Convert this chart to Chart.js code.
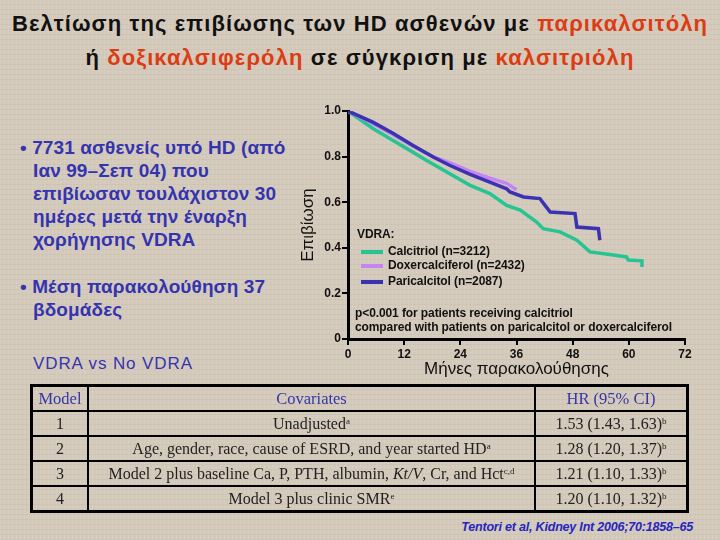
<!DOCTYPE html>
<html lang="el">
<head>
<meta charset="UTF-8">
<title>Επιβίωση HD - VDRA</title>
<script src="https://cdn.jsdelivr.net/npm/chart.js@4.4.1/dist/chart.umd.min.js"></script>
<style>
    html, body { margin: 0; padding: 0; }
    body {
        width: 720px; height: 540px; position: relative; overflow: hidden;
        background-color: #d4cabb;
        background-image:
            repeating-linear-gradient(90deg, rgba(255,255,255,0.07) 0 1px, rgba(0,0,0,0) 1px 4px),
            repeating-linear-gradient(0deg, rgba(90,70,50,0.05) 0 1px, rgba(0,0,0,0) 1px 5px);
        font-family: "Liberation Sans", Arial, sans-serif;
    }
    .title {
        position: absolute; left: 0; width: 720px; text-align: center;
        font-size: 22px; font-weight: bold; letter-spacing: 1.1px; color: #111; white-space: nowrap;
    }
    .title .hl { color: #dc3c14; }
    .bullets {
        position: absolute; left: 20px; top: 136px; color: #3434b0;
        font-weight: bold; font-size: 19px; line-height: 23px; white-space: nowrap; letter-spacing: 0.1px;
    }
    .bullets p { margin: 0; padding-left: 13px; text-indent: -13px; }
    .vdra { position: absolute; left: 33px; top: 354px; color: #3434b0; font-size: 17px; letter-spacing: 0.9px; }
    #wrap { position: absolute; left: 270px; top: 95px; width: 430px; height: 290px; }
    .lg { position: absolute; font-weight: bold; font-size: 12px; color: #111; white-space: nowrap; letter-spacing: -0.1px; }
    .sw { position: absolute; width: 22px; height: 4px; }
    table {
        position: absolute; left: 30px; top: 384px; width: 659px; height: 124px;
        border-collapse: collapse; border: 3px solid #000;
        font-family: "Liberation Serif", "Times New Roman", serif; font-size: 16px; color: #222;
    }
    td, th { border: 2px solid #000; text-align: center; padding: 0; height: 23px; }
    th { color: #3636a8; font-weight: normal; font-size: 16.5px; }
    sup { font-size: 9px; vertical-align: 5px; line-height: 0; }
    .cite {
        position: absolute; right: 27px; top: 520px; color: #2626c0;
        font-style: italic; font-weight: bold; font-size: 12.5px; letter-spacing: -0.2px;
    }
</style>
</head>
<body>
<div class="title" style="top:11px">Βελτίωση της επιβίωσης των HD ασθενών με <span class="hl">παρικαλσιτόλη</span></div>
<div class="title" style="top:45px">ή <span class="hl">δοξικαλσιφερόλη</span> σε σύγκριση με <span class="hl">καλσιτριόλη</span></div>

<div class="bullets">
    <p>• 7731 ασθενείς υπό HD (από<br>Ιαν 99–Σεπ 04) που<br>επιβίωσαν τουλάχιστον 30<br>ημέρες μετά την έναρξη<br>χορήγησης VDRA</p>
    <p style="margin-top:24px">• Μέση παρακολούθηση 37<br>βδομάδες</p>
</div>
<div class="vdra">VDRA vs No VDRA</div>

<div id="wrap"><canvas id="km" width="430" height="290"></canvas></div>
<div id="legend"></div>
<div class="lg" style="left:355px; top:306px; line-height:14px">p&lt;0.001 for patients receiving calcitriol<br>compared with patients on paricalcitol or doxercalciferol</div>

<table>
    <tr><th style="width:54px">Model</th><th>Covariates</th><th style="width:150px">HR (95% CI)</th></tr>
    <tr><td>1</td><td>Unadjusted<sup>a</sup></td><td>1.53 (1.43, 1.63)<sup>b</sup></td></tr>
    <tr><td>2</td><td>Age, gender, race, cause of ESRD, and year started HD<sup>a</sup></td><td>1.28 (1.20, 1.37)<sup>b</sup></td></tr>
    <tr><td>3</td><td>Model 2 plus baseline Ca, P, PTH, albumin, <i>Kt/V</i>, Cr, and Hct<sup>c,d</sup></td><td>1.21 (1.10, 1.33)<sup>b</sup></td></tr>
    <tr><td>4</td><td>Model 3 plus clinic SMR<sup>e</sup></td><td>1.20 (1.10, 1.32)<sup>b</sup></td></tr>
</table>
<div class="cite">Tentori et al, Kidney Int 2006;70:1858–65</div>

<script>
// months of follow-up / survival
const calcitriolMonths = [0, 5.4, 9.0, 12.6, 16.8, 21.1, 26.1, 30.3, 33.9, 36.8, 40.3, 41.7, 45.3, 48.9, 51.7, 56.7, 59.5, 59.9, 62.8, 62.8];
const calcitriolSurv   = [1.0, 0.922, 0.878, 0.835, 0.783, 0.732, 0.674, 0.638, 0.586, 0.565, 0.513, 0.484, 0.47, 0.433, 0.382, 0.368, 0.36, 0.346, 0.343, 0.316];

const doxerMonths = [0, 5.3, 9.6, 13.9, 18.2, 21.8, 26.1, 30.3, 33.9, 36.0];
const doxerSurv   = [1.0, 0.945, 0.897, 0.846, 0.80, 0.772, 0.735, 0.705, 0.683, 0.655];

const pariMonths = [0, 5.3, 9.6, 13.9, 18.2, 21.8, 26.1, 30.3, 33.9, 34.6, 37.5, 41.0, 42.1, 43.2, 48.5, 48.9, 53.5, 53.8];
const pariSurv   = [1.0, 0.951, 0.902, 0.849, 0.798, 0.761, 0.722, 0.688, 0.659, 0.645, 0.623, 0.616, 0.586, 0.557, 0.55, 0.491, 0.484, 0.433];

const seriesLabels = ['Calcitriol (n=3212)', 'Doxercalciferol (n=2432)', 'Paricalcitol (n=2087)'];
const seriesColors = ['#26c492', '#c484f4', '#3a32b0'];

const xTicks = [0, 12, 24, 36, 48, 60, 72];
const yTicks = [0, 0.2, 0.4, 0.6, 0.8, 1.0];

function pts(ms, ss) {
    return ms.map((m, i) => ({ x: m, y: ss[i] }));
}

// legend (html, inside the plot)
const legend = document.getElementById('legend');
legend.innerHTML = '<div class="lg" style="left:357px; top:227px">VDRA:</div>';
const rows = [244, 258, 274];
seriesLabels.forEach((lab, i) => {
    legend.innerHTML += '<div class="sw" style="left:361px; top:' + (rows[i] + 6) + 'px; background:' + seriesColors[i] + '"></div>'
        + '<div class="lg" style="left:388px; top:' + rows[i] + 'px">' + lab + '</div>';
});

const tickFont = { family: '"Liberation Sans", Arial, sans-serif', size: 12, weight: 'bold' };

new Chart(document.getElementById('km'), {
    type: 'line',
    data: {
        datasets: [
            { label: seriesLabels[2], data: pts(pariMonths, pariSurv), borderColor: seriesColors[2], borderWidth: 3.5 },
            { label: seriesLabels[1], data: pts(doxerMonths, doxerSurv), borderColor: seriesColors[1], borderWidth: 3.5 },
            { label: seriesLabels[0], data: pts(calcitriolMonths, calcitriolSurv), borderColor: seriesColors[0], borderWidth: 3.5 }
        ]
    },
    options: {
        responsive: false,
        animation: false,
        devicePixelRatio: 1,
        parsing: false,
        elements: { point: { radius: 0 }, line: { tension: 0 } },
        layout: { padding: { left: 0, right: 15, top: 16, bottom: 0 } },
        plugins: { legend: { display: false }, tooltip: { enabled: false } },
        scales: {
            x: {
                type: 'linear', min: 0, max: 72,
                afterBuildTicks: s => { s.ticks = xTicks.map(v => ({ value: v })); },
                afterFit: s => { s.height = 46; },
                border: { color: '#000', width: 3 },
                grid: { drawOnChartArea: false, tickLength: 6, color: '#000', lineWidth: 2 },
                ticks: { color: '#111', font: tickFont, padding: 2, maxRotation: 0 },
                title: { display: true, text: 'Μήνες παρακολούθησης', color: '#111',
                         font: { family: '"Liberation Sans", Arial, sans-serif', size: 17 }, padding: { bottom: 5 } }
            },
            y: {
                min: 0, max: 1,
                afterBuildTicks: s => { s.ticks = yTicks.map(v => ({ value: v })); },
                afterFit: s => { s.width = 78; },
                border: { color: '#000', width: 3 },
                grid: { drawOnChartArea: false, tickLength: 6, color: '#000', lineWidth: 2 },
                ticks: { color: '#111', font: tickFont, padding: 1,
                         callback: v => v === 0 ? '0' : v.toFixed(1) },
                title: { display: true, text: 'Επιβίωση', color: '#111',
                         font: { family: '"Liberation Sans", Arial, sans-serif', size: 17 }, padding: { top: 28 } }
            }
        }
    }
});
</script>
</body>
</html>
